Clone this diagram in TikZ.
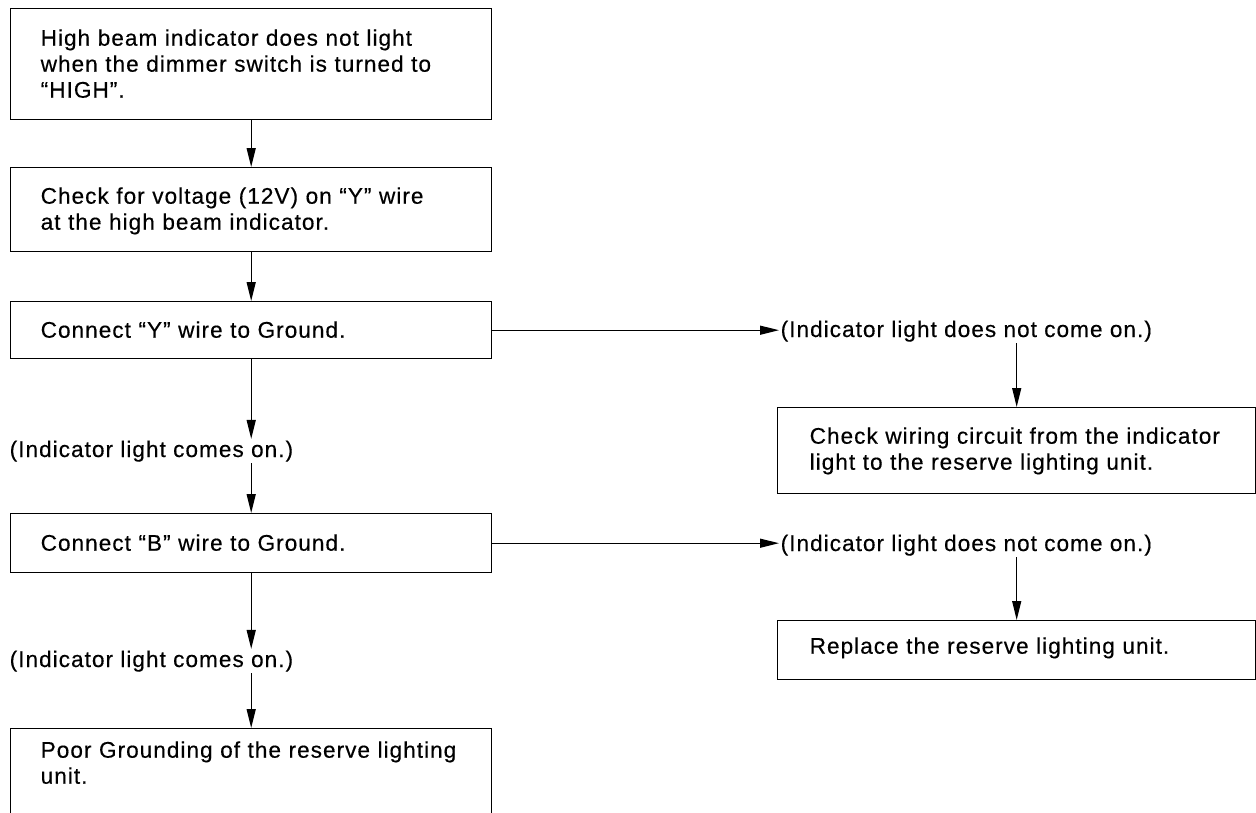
\documentclass[tikz,border=0pt]{standalone}
\usepackage{fontspec}
\setmainfont{Liberation Sans}[LetterSpace=4.5,FakeBold=0.4]
\usetikzlibrary{arrows.meta}
\newcommand{\fsz}{\fontsize{22.6pt}{26pt}\selectfont}
\begin{document}
\begin{tikzpicture}[x=1pt,y=-1pt,
  box/.style={draw, line width=1.4pt, anchor=north west, inner ysep=0pt,
    inner xsep=30pt, align=left, font=\fsz, text width=421pt},
  rbox/.style={box, inner xsep=32pt, text width=414pt},
  lbl/.style={anchor=base west, inner sep=1.5pt, font=\fsz},
  arr/.style={line width=1.4pt, -{Triangle[length=19pt,width=9pt]}}]
\useasboundingbox (0,0) rectangle (1256,812);
% left column
\node[box, text height=37pt, text depth=74pt] (b1) at (10,8)
  {High beam indicator does not light\\when the dimmer switch is turned to\\``HIGH''.};
\node[box, text height=36pt, text depth=48pt] (b2) at (10,167)
  {Check for voltage (12V) on ``Y'' wire\\at the high beam indicator.};
\node[box, text height=36pt, text depth=21pt] (b3) at (10,301)
  {Connect ``Y'' wire to Ground.};
\node[lbl] (l1) at (8,457) {(Indicator light comes on.)};
\node[box, text height=37pt, text depth=22pt] (b4) at (10,513)
  {Connect ``B'' wire to Ground.};
\node[lbl] (l2) at (8,667) {(Indicator light comes on.)};
\node[box, text height=29pt, text depth=73pt] (b5) at (10,728)
  {Poor Grounding of the reserve lighting\\unit.};
% right column
\node[lbl] (r1) at (779,337) {(Indicator light does not come on.)};
\node[rbox, text height=36pt, text depth=50pt] (rb1) at (777,407)
  {Check wiring circuit from the indicator\\light to the reserve lighting unit.};
\node[lbl] (r2) at (779,551) {(Indicator light does not come on.)};
\node[rbox, text height=33pt, text depth=26pt] (rb2) at (777,620)
  {Replace the reserve lighting unit.};
% connectors
\draw[arr] (b1.south) -- (b2.north);
\draw[arr] (b2.south) -- (b3.north);
\draw[arr] (b3.south) -- (b3.south |- l1.north);
\draw[arr] (b3.south |- l1.south) -- (b4.north);
\draw[arr] (b4.south) -- (b4.south |- l2.north);
\draw[arr] (b4.south |- l2.south) -- (b5.north);
\draw[arr] (b3.east) -- (b3.east -| r1.west);
\draw[arr] (r1.south -| rb1.north) -- (rb1.north);
\draw[arr] (b4.east) -- (b4.east -| r2.west);
\draw[arr] (r2.south -| rb2.north) -- (rb2.north);
\end{tikzpicture}
\end{document}
